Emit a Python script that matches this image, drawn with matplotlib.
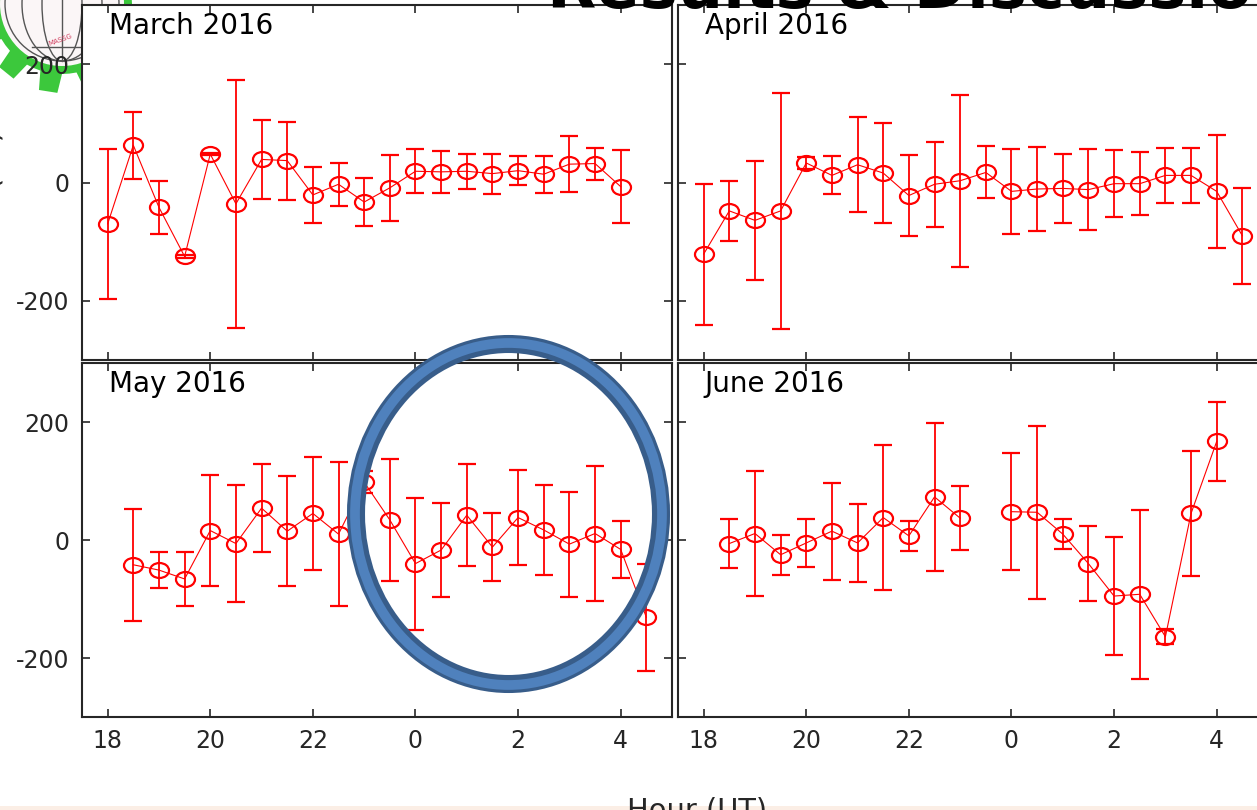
import numpy as np
import matplotlib
matplotlib.use('Agg')
import matplotlib.pyplot as plt
from matplotlib.path import Path
from matplotlib.transforms import Affine2D
from matplotlib.patches import Ellipse, Rectangle, Polygon, Circle

plt.rcParams['axes.unicode_minus'] = False

W, H = 1257, 810
nan = np.nan

# half-hour bins, 24..28.5 are 00..04:30 UT of the next day
hour_ut = [18.0, 18.5, 19.0, 19.5, 20.0, 20.5, 21.0, 21.5, 22.0, 22.5, 23.0,
           23.5, 24.0, 24.5, 25.0, 25.5, 26.0, 26.5, 27.0, 27.5, 28.0, 28.5]
hour_ticks = [18, 20, 22, 24, 26, 28]
hour_labels = ['18', '20', '22', '0', '2', '4']
amp_ticks = [-200, 0, 200]

mar_mean = [-70, 63, -42, -125, 48, -36, 39, 37, -21, -3, -33,
            -9, 19, 18, 19, 15, 20, 14, 31, 32, -7, nan]
mar_err = [127, 57, 45, 2, 2, 210, 67, 66, 48, 36, 40,
           56, 37, 36, 30, 34, 25, 31, 47, 27, 62, nan]

apr_mean = [-121, -48, -64, -48, 33, 12, 30, 16, -22, -3, 3,
            17, -15, -11, -10, -12, -2, -2, 12, 12, -15, -90]
apr_err = [119, 51, 100, 200, 10, 32, 80, 85, 68, 72, 145,
           44, 72, 71, 59, 68, 57, 53, 46, 46, 96, 81]

may_mean = [nan, -42, -51, -66, 16, -6, 54, 15, 45, 10, 98,
            34, -40, -17, 42, -12, 38, 17, -7, 11, -16, -131]
may_err = [nan, 95, 30, 46, 94, 99, 74, 93, 96, 122, 19,
           104, 112, 80, 86, 57, 80, 76, 89, 114, 48, 91]

jun_mean = [nan, -6, 11, -25, -5, 15, -5, 38, 7, 73, 37,
            nan, 48, 47, 10, -40, -95, -92, -164, 45, 167, nan]
jun_err = [nan, 42, 106, 34, 40, 82, 66, 123, 25, 126, 54,
           nan, 99, 147, 25, 64, 100, 143, 13, 106, 67, nan]

months = ['March 2016', 'April 2016', 'May 2016', 'June 2016']


def px_rect(x0, y0, x1, y1):
    return [x0 / W, 1 - y1 / H, (x1 - x0) / W, (y1 - y0) / H]


# slightly wide open circle
oval = Affine2D().scale(1.27, 1.0).transform_path(Path.unit_circle())

fig = plt.figure(figsize=(W / 100, H / 100), dpi=100)
fig.patch.set_facecolor('white')

# logo behind the panels
bg = fig.add_axes([0, 0, 1, 1], zorder=-1)
bg.set_xlim(0, W)
bg.set_ylim(H, 0)
bg.axis('off')
cx, cy = 62, 4
gear = []
for k in range(12):
    tc = np.deg2rad(9 + 30 * k)
    for da, r in [(-15, 70), (-9, 70), (-6, 89), (6, 89), (9, 70)]:
        a = tc + np.deg2rad(da)
        gear.append((cx + r * np.cos(a), cy + r * np.sin(a)))
bg.add_patch(Polygon(gear, closed=True, fc='#3cc83c', ec='none'))
bg.add_patch(Circle((cx, cy), 62, fc='#fbf6f7', ec='none'))
bg.add_patch(Circle((cx, cy), 57, fc='none', ec='#555555', lw=1.0))
bg.add_patch(Ellipse((cx, cy), 80, 114, fc='none', ec='#555555', lw=1.0))
bg.add_patch(Ellipse((cx, cy), 40, 114, fc='none', ec='#555555', lw=1.0))
bg.plot([cx, cx], [cy - 57, cy + 57], color='#555555', lw=1.0)
bg.plot([cx - 30, cx + 30], [47, 47], color='#555555', lw=1.0)
bg.text(60, 40, 'MASSG', color='#d04060', fontsize=5, rotation=20,
        ha='center', va='center')

rects = [(82, 5, 672, 360), (678, 5, 1268, 360),
         (82, 363, 672, 717), (678, 363, 1268, 717)]
means = [mar_mean, apr_mean, may_mean, jun_mean]
errs = [mar_err, apr_err, may_err, jun_err]

for i, (name, m, e, r) in enumerate(zip(months, means, errs, rects)):
    ax = fig.add_axes(px_rect(*r))
    ax.set_facecolor('white')
    ax.errorbar(hour_ut, m, yerr=e, color='red', lw=0.8,
                marker=oval, ms=13.7, mfc='none', mec='red', mew=1.6,
                elinewidth=1.3, capsize=6.8, capthick=1.3)
    ax.set_xlim(17.5, 29)
    ax.set_ylim(-300, 300)
    ax.set_xticks(hour_ticks)
    ax.set_xticklabels(hour_labels)
    ax.set_yticks(amp_ticks)
    ax.tick_params(direction='in', length=5.5, width=1.2, top=True,
                   right=True, labelsize=17, colors='#262626', pad=9)
    if i < 2:
        ax.tick_params(labelbottom=False)
    if i % 2 == 1:
        ax.tick_params(labelleft=False)
    for sp in ax.spines.values():
        sp.set_linewidth(1.5)
        sp.set_color('#262626')
    ax.text(0.045, 0.917, name, transform=ax.transAxes, fontsize=20,
            ha='left', va='baseline', color='black')

# annotations drawn over the panels
ov = fig.add_axes([0, 0, 1, 1], zorder=10)
ov.set_xlim(0, W)
ov.set_ylim(H, 0)
ov.axis('off')
ov.add_patch(Ellipse((508.5, 514), 305, 340, fill=False,
                     ec='#385d8a', lw=13))
ov.add_patch(Ellipse((508.5, 514), 307, 342, fill=False,
                     ec='#4f81bd', lw=7))
ov.text(547, 8, 'Results & Discussion', fontsize=46, fontweight='bold',
        ha='left', va='baseline', color='black')
ov.text(6, 185, 'ΔH (nT)', rotation=90, ha='right', va='center',
        fontsize=21, color='#262626')
ov.text(697, 819, 'Hour (UT)', ha='center', va='baseline',
        fontsize=20.8, color='#262626', clip_on=False)
ov.add_patch(Rectangle((0, 806), W, 4, fc='#fbeee5', ec='none'))

fig.savefig('out.png', dpi=100)
